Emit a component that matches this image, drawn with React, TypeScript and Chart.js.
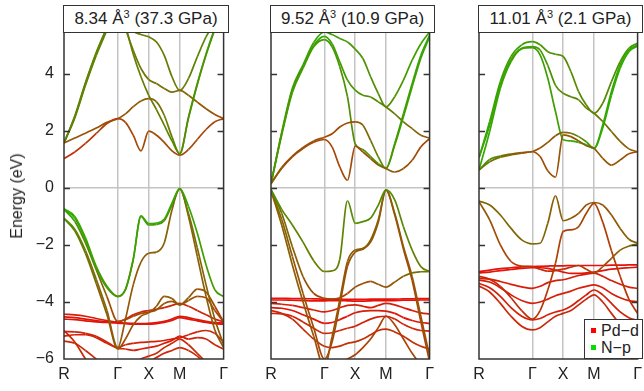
import React, { useEffect, useRef } from "react";
import { Chart, registerables } from "chart.js";

Chart.register(...registerables);

// ---------- axes data ----------
const kPoints = [0, 0.1732, 0.3464, 0.5196, 0.6928, 0.866, 0.991, 1.116, 1.241, 1.366, 1.491, 1.616, 1.741, 1.866, 2.0074, 2.1488, 2.2902, 2.4316, 2.573];
const symPoints = [0, 0.866, 1.366, 1.866, 2.573];
const symLabels = ["R", "Γ", "X", "M", "Γ"];
const energyTicks = [-6, -4, -2, 0, 2, 4];
const energyMin = -6;
const energyMax = 5.47;

// ---------- panel 1 : 8.34 Å3 (37.3 GPa) ----------
const p1c1 = [1.03, 1.26, 1.56, 1.91, 2.26, 2.43, 2.3, 1.85, 1.3, 1.99, 1.85, 1.6, 1.3, 1.15, 1.35, 1.7, 2.05, 2.32, 2.43];
const p1c2 = [1.58, 1.75, 1.92, 2.1, 2.3, 2.43, 2.6, 2.85, 3.05, 3.13, 3.02, 2.55, 1.79, 1.2, 2.49, 3.66, 4.7, 5.6, 6.3];
const p1c3 = [1.58, 2.49, 3.66, 4.71, 5.6, 6.6, 5.6, 4.83, 4.19, 3.8, 3.66, 3.49, 3.36, 3.42, 3.25, 3.01, 2.78, 2.58, 2.43];
const p1c4 = [1.58, 2.45, 3.6, 4.65, 5.55, 6.6, 5.9, 5.5, 5.38, 5.3, 5.12, 4.65, 3.9, 3.42, 3.84, 4.6, 5.3, 5.8, 6.4];
const p1c5 = [1.58, 2.52, 3.7, 4.75, 5.65, 6.6, 5.7, 4.7, 3.9, 3.25, 2.75, 2.2, 1.65, 1.2, 2.45, 3.62, 4.66, 5.55, 6.3];
const p1v1 = [-0.74, -1.05, -1.82, -2.81, -3.5, -3.81, -3.57, -2.52, -0.98, -1.25, -1.23, -1.1, -0.53, -0.02, -0.65, -1.58, -2.7, -3.57, -3.81];
const p1v5 = [-0.73, -1.0, -1.75, -2.75, -3.45, -3.8, -3.55, -2.5, -1.0, -1.3, -1.28, -1.15, -0.6, -0.04, -0.9, -2.1, -3.4, -4.6, -5.5];
const p1v2 = [-0.76, -1.17, -1.93, -2.87, -3.81, -4.68, -4.62, -4.5, -4.4, -4.35, -4.28, -4.05, -3.98, -4.1, -3.95, -3.8, -3.85, -4.3, -4.7];
const p1v3 = [-1.06, -1.45, -2.2, -3.2, -4.3, -5.6, -4.6, -3.4, -2.6, -2.29, -2.25, -1.93, -0.77, -0.02, -1.0, -2.4, -3.8, -4.98, -5.6];
const p1v4 = [-1.08, -1.5, -2.3, -3.35, -4.45, -5.65, -5.3, -4.8, -4.5, -4.38, -4.15, -3.8, -3.88, -4.1, -3.85, -3.55, -3.65, -4.15, -4.7];
const p1r1 = [-4.52, -4.55, -4.6, -4.65, -4.7, -4.72, -4.74, -4.75, -4.76, -4.75, -4.72, -4.68, -4.6, -4.5, -4.55, -4.62, -4.68, -4.72, -4.74];
const p1r2 = [-4.43, -4.45, -4.5, -4.58, -4.65, -4.7, -4.6, -4.45, -4.35, -4.3, -4.25, -4.2, -4.12, -4.05, -4.15, -4.3, -4.45, -4.6, -4.7];
const p1r3 = [-4.6, -4.62, -4.66, -4.7, -4.72, -4.74, -4.76, -4.78, -4.78, -4.78, -4.76, -4.72, -4.65, -4.55, -4.6, -4.66, -4.72, -4.76, -4.78];
const p1r4 = [-5.04, -5.05, -5.1, -5.2, -5.4, -5.6, -5.5, -5.45, -5.42, -5.4, -5.38, -5.35, -5.3, -5.25, -5.15, -5.05, -5.0, -5.1, -5.4];
const p1r5 = [-5.2, -5.15, -5.15, -5.25, -5.45, -5.62, -5.65, -5.7, -5.65, -5.6, -5.55, -5.45, -5.35, -5.2, -5.3, -5.25, -5.3, -5.5, -5.65];
const p1r6 = [-5.37, -5.45, -5.7, -6.0, -6.3, -6.5, -6.4, -6.2, -6.0, -5.9, -5.8, -5.6, -5.45, -5.3, -5.5, -5.8, -6.1, -6.3, -6.4];
const p1r7 = [-5.0, -5.4, -6.0, -6.5, -6.7, -6.8, -6.7, -6.5, -6.3, -6.1, -5.95, -5.8, -5.7, -5.6, -5.7, -5.9, -6.2, -6.5, -6.8];

// N-p character at R, Γ, X, M, Γ (0 = Pd-d, 1 = N-p)
const p1Weights = [
  [0.2, 0.3, 0.35, 0.35, 0.3], [0.4, 0.4, 0.45, 0.7, 0.8], [0.65, 0.65, 0.55, 0.5, 0.35], [0.6, 0.65, 0.6, 0.6, 0.75], [0.65, 0.65, 0.6, 0.7, 0.8],
  [0.9, 0.75, 0.85, 0.85, 0.75], [0.9, 0.75, 0.8, 0.6, 0.4], [0.85, 0.3, 0.35, 0.4, 0.3], [0.75, 0.4, 0.45, 0.5, 0.4], [0.7, 0.35, 0.4, 0.45, 0.3],
  [0.05, 0.05, 0.05, 0.05, 0.05], [0.1, 0.1, 0.12, 0.15, 0.1], [0.05, 0.05, 0.05, 0.05, 0.05], [0.1, 0.15, 0.1, 0.1, 0.15], [0.1, 0.15, 0.1, 0.1, 0.15], [0.15, 0.2, 0.15, 0.15, 0.2], [0.15, 0.2, 0.15, 0.15, 0.2],
];

// ---------- panel 2 : 9.52 Å3 (10.9 GPa) ----------
const p2c1 = [0.15, 0.68, 1.09, 1.38, 1.6, 1.7, 1.44, 0.74, 0.27, 1.47, 1.26, 1.03, 0.8, 0.68, 0.56, 0.68, 0.97, 1.44, 1.73];
const p2c2 = [0.15, 0.72, 1.12, 1.42, 1.65, 1.78, 1.9, 2.14, 2.28, 2.32, 2.2, 1.67, 1.09, 0.68, 1.56, 2.6, 3.66, 4.65, 5.36];
const p2c3 = [0.15, 1.85, 3.35, 4.2, 4.95, 5.2, 4.95, 4.25, 3.2, 1.55, 1.35, 1.1, 0.85, 0.7, 1.5, 2.5, 3.55, 4.55, 5.3];
const p2c4 = [0.15, 1.9, 3.43, 4.25, 5.0, 5.32, 5.06, 4.42, 3.78, 3.43, 3.25, 3.19, 3.02, 2.84, 2.6, 2.32, 2.08, 1.85, 1.75];
const p2c5 = [0.15, 1.95, 3.5, 4.32, 5.1, 5.47, 5.38, 5.24, 5.12, 4.87, 4.54, 3.9, 3.31, 2.84, 3.2, 3.78, 4.48, 5.06, 5.47];
const p2v1 = [-0.05, -0.75, -1.3, -1.9, -2.55, -2.93, -2.91, -2.5, -0.45, -1.24, -1.18, -1.06, -0.6, -0.07, -0.42, -1.36, -2.18, -2.76, -2.93];
const p2v2 = [-0.08, -0.89, -2.06, -3.11, -3.7, -3.87, -3.9, -3.85, -3.7, -3.48, -3.35, -3.28, -3.38, -3.48, -3.3, -3.1, -2.98, -2.94, -2.93];
const p2v3 = [-0.1, -1.3, -2.7, -4.0, -5.2, -6.3, -5.22, -3.93, -2.58, -2.18, -2.12, -1.82, -1.12, -0.07, -0.89, -2.06, -3.11, -4.5, -5.9];
const p2v4 = [-0.12, -1.1, -2.4, -3.7, -4.9, -6.0, -5.4, -4.1, -2.75, -2.25, -2.15, -1.9, -1.2, -0.08, -0.95, -2.15, -3.25, -4.7, -6.1];
const p2r1 = [-3.87, -3.87, -3.88, -3.88, -3.89, -3.9, -3.9, -3.9, -3.91, -3.91, -3.91, -3.9, -3.9, -3.9, -3.9, -3.89, -3.89, -3.88, -3.88];
const p2r2 = [-3.93, -3.93, -3.94, -3.95, -3.96, -3.96, -3.95, -3.95, -3.96, -3.97, -3.97, -3.96, -3.95, -3.95, -3.95, -3.94, -3.94, -3.93, -3.93];
const p2r3 = [-4.2, -4.22, -4.3, -4.45, -4.6, -4.75, -4.72, -4.62, -4.5, -4.38, -4.32, -4.3, -4.3, -4.32, -4.4, -4.55, -4.65, -4.72, -4.75];
const p2r4 = [-4.4, -4.42, -4.5, -4.7, -4.92, -5.1, -5.08, -5.0, -4.92, -4.85, -4.72, -4.6, -4.52, -4.5, -4.6, -4.78, -4.92, -5.0, -5.02];
const p2r5 = [-4.05, -4.08, -4.12, -4.2, -4.28, -4.35, -4.3, -4.2, -4.12, -4.1, -4.15, -4.2, -4.12, -4.05, -4.1, -4.2, -4.3, -4.38, -4.42];
const p2r6 = [-4.3, -4.4, -4.6, -4.95, -5.3, -5.55, -5.6, -5.55, -5.45, -5.4, -5.3, -5.15, -5.0, -4.95, -5.05, -5.2, -5.4, -5.55, -5.65];
const p2r7 = [-6.5, -6.5, -6.5, -6.5, -6.5, -6.5, -6.4, -6.2, -6.0, -5.85, -5.6, -5.3, -4.9, -4.5, -4.8, -5.3, -5.8, -6.2, -6.5];

const p2Weights = [
  [0.4, 0.3, 0.35, 0.45, 0.3], [0.5, 0.35, 0.35, 0.75, 0.85], [0.75, 0.8, 0.7, 0.8, 0.85], [0.75, 0.85, 0.75, 0.65, 0.4], [0.75, 0.85, 0.75, 0.7, 0.85],
  [0.7, 0.6, 0.7, 0.7, 0.6], [0.6, 0.3, 0.35, 0.4, 0.6], [0.5, 0.35, 0.45, 0.45, 0.35], [0.5, 0.3, 0.4, 0.4, 0.3],
  [0.02, 0.02, 0.02, 0.02, 0.02], [0.02, 0.02, 0.02, 0.02, 0.02], [0.05, 0.05, 0.08, 0.08, 0.05], [0.12, 0.15, 0.12, 0.12, 0.15], [0.08, 0.1, 0.1, 0.1, 0.1], [0.15, 0.2, 0.2, 0.2, 0.2], [0.3, 0.3, 0.3, 0.3, 0.3],
];

// ---------- panel 3 : 11.01 Å3 (2.1 GPa) ----------
const p3c1 = [0.63, 0.92, 1.08, 1.16, 1.22, 1.27, 1.1, 0.6, 0.38, 1.86, 1.8, 1.65, 1.48, 1.39, 1.04, 0.8, 0.98, 1.2, 1.27];
const p3c2 = [0.63, 1.0, 1.12, 1.19, 1.24, 1.28, 1.4, 1.6, 1.83, 1.95, 1.92, 1.8, 1.62, 1.39, 2.21, 3.38, 4.32, 4.84, 5.02];
const p3c3 = [1.06, 2.33, 3.73, 4.61, 5.02, 5.13, 5.02, 4.78, 4.69, 4.61, 4.08, 3.38, 2.91, 2.62, 2.97, 3.73, 4.43, 4.9, 5.08];
const p3c4 = [1.06, 2.2, 3.6, 4.5, 4.9, 4.96, 4.84, 4.3, 3.6, 3.32, 3.2, 3.09, 2.8, 2.62, 2.33, 1.98, 1.63, 1.37, 1.27];
const p3c5 = [0.63, 1.98, 3.5, 4.43, 4.88, 4.92, 4.67, 3.85, 2.68, 1.69, 1.65, 1.6, 1.51, 1.39, 2.1, 3.25, 4.2, 4.78, 4.98];
const p3v1 = [-0.46, -0.6, -0.95, -1.42, -1.82, -1.96, -1.94, -1.24, -0.28, -1.15, -1.06, -0.89, -0.6, -0.51, -0.6, -0.95, -1.42, -1.8, -1.94];
const p3v2 = [-0.48, -1.12, -2.0, -2.58, -2.74, -2.76, -2.85, -2.92, -2.9, -2.85, -2.78, -2.72, -2.85, -2.98, -2.76, -2.47, -2.18, -2.04, -1.97];
const p3v3 = [-3.1, -3.2, -3.45, -3.85, -4.3, -4.6, -4.3, -3.58, -2.64, -1.53, -1.47, -1.36, -0.89, -0.54, -1.2, -2.2, -3.1, -3.9, -4.4];
const p3r1 = [-2.94, -2.88, -2.83, -2.8, -2.77, -2.76, -2.75, -2.74, -2.73, -2.73, -2.72, -2.72, -2.72, -2.72, -2.72, -2.71, -2.71, -2.7, -2.7];
const p3r2 = [-2.98, -2.95, -2.9, -2.86, -2.82, -2.8, -2.8, -2.82, -2.88, -2.95, -3.0, -3.0, -2.98, -2.95, -2.9, -2.85, -2.82, -2.8, -2.78];
const p3r3 = [-3.17, -3.2, -3.28, -3.38, -3.47, -3.52, -3.45, -3.32, -3.25, -3.22, -3.15, -3.07, -3.02, -2.99, -3.1, -3.25, -3.38, -3.48, -3.52];
const p3r4 = [-3.23, -3.3, -3.5, -3.75, -3.95, -4.05, -4.0, -3.9, -3.78, -3.7, -3.62, -3.52, -3.45, -3.4, -3.5, -3.7, -3.85, -3.95, -3.99];
const p3r5 = [-3.35, -3.5, -3.8, -4.2, -4.5, -4.63, -4.58, -4.45, -4.35, -4.28, -4.15, -3.95, -3.75, -3.58, -3.75, -4.05, -4.35, -4.55, -4.65];
const p3r6 = [-3.44, -3.65, -4.05, -4.5, -4.85, -4.98, -4.9, -4.7, -4.5, -4.4, -4.3, -4.1, -3.9, -3.75, -4.0, -4.4, -4.8, -5.2, -5.5];

const p3Weights = [
  [0.6, 0.35, 0.4, 0.45, 0.35], [0.85, 0.4, 0.45, 0.85, 0.85], [0.85, 0.8, 0.7, 0.65, 0.8], [0.85, 0.8, 0.7, 0.6, 0.4], [0.85, 0.8, 0.8, 0.9, 0.85],
  [0.5, 0.5, 0.45, 0.35, 0.5], [0.45, 0.15, 0.2, 0.3, 0.55], [0.15, 0.2, 0.3, 0.3, 0.2],
  [0.03, 0.03, 0.03, 0.03, 0.03], [0.05, 0.05, 0.05, 0.05, 0.05], [0.1, 0.1, 0.1, 0.1, 0.1], [0.1, 0.1, 0.1, 0.1, 0.1], [0.12, 0.12, 0.12, 0.12, 0.12], [0.15, 0.15, 0.15, 0.15, 0.15],
];

const volumes = ["8.34", "9.52", "11.01"];
const pressures = ["37.3", "10.9", "2.1"];
const panelBands = [
  [p1c1, p1c2, p1c3, p1c4, p1c5, p1v1, p1v5, p1v2, p1v3, p1v4, p1r1, p1r2, p1r3, p1r4, p1r5, p1r6, p1r7],
  [p2c1, p2c2, p2c3, p2c4, p2c5, p2v1, p2v2, p2v3, p2v4, p2r1, p2r2, p2r3, p2r4, p2r5, p2r6, p2r7],
  [p3c1, p3c2, p3c3, p3c4, p3c5, p3v1, p3v2, p3v3, p3r1, p3r2, p3r3, p3r4, p3r5, p3r6],
];
const panelWeights = [p1Weights, p2Weights, p3Weights];
const legendLabels = ["Pd\u2212d", "N\u2212p"];

// ---------- layout / style ----------
const PANEL_LEFT = [64, 271, 479];
const PANEL_RIGHT = [228, 434, 642];
const AXIS_W = 60;
const RIGHT_PAD = 6;
const H = 391;
const FONT = '"Liberation Sans", Arial, Helvetica, sans-serif';
const TEXT = "#222";
const FRAME = "#333";
const GRID = "#c4c4c4";
const PD_RGB = [235, 12, 10];
const NP_RGB = [20, 195, 0];

function mix(w: number) {
  const c = PD_RGB.map((v, i) => Math.round(v * (1 - w) + NP_RGB[i] * w));
  return `rgb(${c[0]},${c[1]},${c[2]})`;
}
function weightAt(x: number, w: number[]) {
  for (let i = 0; i < 4; i++) {
    if (x <= symPoints[i + 1]) {
      const t = (x - symPoints[i]) / (symPoints[i + 1] - symPoints[i]);
      return w[i] + (w[i + 1] - w[i]) * t;
    }
  }
  return w[4];
}

const framePlugin = {
  id: "bandFrame",
  afterDatasetsDraw(chart: any) {
    const { ctx, chartArea: a, scales } = chart;
    const y = scales.y;
    ctx.save();
    ctx.strokeStyle = FRAME;
    ctx.lineWidth = 1.5;
    for (const v of energyTicks) {
      if (v <= energyMin) continue;
      const py = Math.round(y.getPixelForValue(v)) + 0.5;
      ctx.beginPath();
      ctx.moveTo(a.left, py);
      ctx.lineTo(a.left + 6, py);
      ctx.moveTo(a.right, py);
      ctx.lineTo(a.right - 6, py);
      ctx.stroke();
    }
    ctx.strokeRect(a.left, a.top, a.right - a.left, a.bottom - a.top);
    ctx.restore();
  },
};

function BandPanel({ index }: { index: number }) {
  const ref = useRef<HTMLCanvasElement>(null);
  const left = PANEL_LEFT[index];
  const right = PANEL_RIGHT[index];
  const width = right - left + AXIS_W + RIGHT_PAD;
  const showY = index === 0;

  useEffect(() => {
    const bands = panelBands[index];
    const weights = panelWeights[index];
    const datasets = bands.map((band, bi) => {
      const w = weights[bi];
      return {
        data: kPoints.map((k, i) => ({ x: k, y: band[i] })),
        borderColor: mix(w[0]),
        borderWidth: 1.7,
        pointRadius: 0,
        fill: false,
        cubicInterpolationMode: "monotone" as const,
        clip: 0,
        segment: {
          borderColor: (c: any) => mix(weightAt((c.p0.parsed.x + c.p1.parsed.x) / 2, w)),
        },
      };
    });
    const chart = new Chart(ref.current as HTMLCanvasElement, {
      type: "line",
      data: { datasets },
      plugins: [framePlugin],
      options: {
        responsive: false,
        animation: false,
        events: [],
        layout: { padding: { left: 0, right: RIGHT_PAD, top: 32, bottom: 0 } },
        plugins: { legend: { display: false }, tooltip: { enabled: false }, title: { display: false } },
        scales: {
          x: {
            type: "linear",
            min: 0,
            max: symPoints[4],
            afterBuildTicks: (s: any) => { s.ticks = symPoints.map((v) => ({ value: v })); },
            afterFit: (s: any) => { s.height = H - 359; },
            ticks: {
              autoSkip: false,
              maxRotation: 0,
              padding: 6,
              color: TEXT,
              font: { family: FONT, size: 16 },
              callback: (_v: any, i: number) => symLabels[i],
            },
            grid: {
              drawTicks: false,
              lineWidth: 1.5,
              color: (c: any) => (c.tick && c.tick.value > 0.01 && c.tick.value < 2.5 ? GRID : "rgba(0,0,0,0)"),
            },
            border: { display: false },
          },
          y: {
            type: "linear",
            min: energyMin,
            max: energyMax,
            afterBuildTicks: (s: any) => { s.ticks = energyTicks.map((v) => ({ value: v })); },
            afterFit: (s: any) => { s.width = AXIS_W; },
            ticks: {
              display: showY,
              padding: 10,
              color: TEXT,
              font: { family: FONT, size: 16 },
              callback: (v: any) => (v < 0 ? "\u2212" + Math.abs(v) : String(v)),
            },
            grid: {
              drawTicks: false,
              lineWidth: 1.5,
              color: (c: any) => (c.tick && c.tick.value === 0 ? GRID : "rgba(0,0,0,0)"),
            },
            border: { display: false },
          },
        },
      } as any,
    });
    return () => chart.destroy();
  }, [index]);

  return (
    <>
      <canvas
        ref={ref}
        width={width}
        height={H}
        style={{ position: "absolute", left: left - AXIS_W, top: 0, width, height: H }}
      />
      <div
        style={{
          position: "absolute",
          left: left - 0.75,
          top: 5,
          width: right - left + 1.5,
          height: 27.75,
          boxSizing: "border-box",
          border: `1.5px solid ${FRAME}`,
          background: "#fff",
          textAlign: "center",
          fontFamily: FONT,
          fontSize: 17,
          color: TEXT,
          lineHeight: "26px",
          whiteSpace: "nowrap",
        }}
      >
        {volumes[index]} Å
        <span style={{ fontSize: 11, position: "relative", top: -6 }}>3</span> ({pressures[index]} GPa)
      </div>
    </>
  );
}

export default function App() {
  return (
    <div
      style={{
        position: "fixed",
        left: 0,
        top: 0,
        width: 644,
        height: H,
        overflow: "hidden",
        background: "#fff",
      }}
    >
      {[0, 1, 2].map((i) => (
        <BandPanel key={i} index={i} />
      ))}
      <div
        style={{
          position: "absolute",
          left: 17,
          top: 196,
          transform: "translate(-50%, -50%) rotate(-90deg)",
          fontFamily: FONT,
          fontSize: 16,
          color: TEXT,
          whiteSpace: "nowrap",
        }}
      >
        Energy (eV)
      </div>
      <div
        style={{
          position: "absolute",
          left: 584,
          top: 319,
          width: 59,
          height: 40,
          boxSizing: "border-box",
          border: `1px solid ${FRAME}`,
          background: "#fff",
          fontFamily: FONT,
          fontSize: 16,
          color: TEXT,
          paddingTop: 2,
        }}
      >
        {legendLabels.map((lab, i) => (
          <div key={lab} style={{ display: "flex", alignItems: "center", height: 17 }}>
            <span
              style={{
                display: "inline-block",
                width: 5,
                height: 5,
                marginLeft: 6,
                marginRight: 5,
                background: i === 0 ? "#ff0000" : "#00e000",
              }}
            />
            <span>{lab}</span>
          </div>
        ))}
      </div>
    </div>
  );
}
